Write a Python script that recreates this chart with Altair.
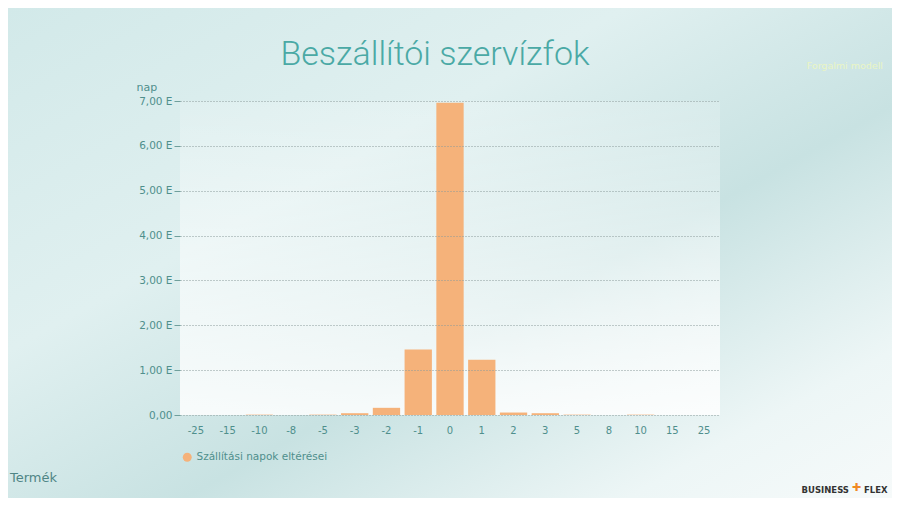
import altair as alt
import pandas as pd

categories = ["-25", "-15", "-10", "-8", "-5", "-3", "-2", "-1", "0", "1", "2", "3", "5", "8", "10", "15", "25"]
values = [0, 0, 8, 0, 8, 40, 160, 1460, 6960, 1230, 55, 40, 8, 0, 8, 0, 0]
series_name = "Szállítási napok eltérései"
title_text = "Beszállítói szervízfok"
corner_text = "Forgalmi modell"
footer_text = "Termék"

df = pd.DataFrame({"cat": categories, "val": values, "series": [series_name] * len(categories)})

W, H = 540, 314
PL, PT = 172, 93
PR = 884 - W - PL
PB = 490 - H - PT

bg = alt.Chart(pd.DataFrame({"a": [0]})).mark_rect(
    color=alt.Gradient(
        gradient="linear", x1=0, y1=0, x2=1, y2=1,
        stops=[
            alt.GradientStop(color="#d2e9e9", offset=0),
            alt.GradientStop(color="#e0f0f0", offset=0.35),
            alt.GradientStop(color="#c8e2e2", offset=0.6),
            alt.GradientStop(color="#edf6f6", offset=0.85),
            alt.GradientStop(color="#f6fafa", offset=1),
        ],
    )
).encode(x=alt.value(-PL), x2=alt.value(W + PR), y=alt.value(-PT), y2=alt.value(H + PB))

plotbg = alt.Chart(pd.DataFrame({"a": [0]})).mark_rect(
    color=alt.Gradient(
        gradient="linear", x1=0, y1=0, x2=0, y2=1,
        stops=[
            alt.GradientStop(color="rgba(255,255,255,0.15)", offset=0),
            alt.GradientStop(color="rgba(255,255,255,0.85)", offset=1),
        ],
    )
).encode(x=alt.value(0), x2=alt.value(W), y=alt.value(0), y2=alt.value(H))

bars = alt.Chart(df).mark_bar(color="#f5b27a").encode(
    x=alt.X("cat:N", sort=categories, title=None,
            scale=alt.Scale(paddingInner=0.14, paddingOuter=0.07),
            axis=alt.Axis(labelAngle=0, ticks=False, domain=False, labelPadding=10, zindex=1,
                          labelColor="#4f8f8c", labelFontSize=10, labelFont="DejaVu Sans", grid=False)),
    y=alt.Y("val:Q", title="nap", scale=alt.Scale(domain=[0, 7000], nice=False),
            axis=alt.Axis(values=[0, 1000, 2000, 3000, 4000, 5000, 6000, 7000], zindex=1,
                          labelExpr="datum.value == 0 ? '0,00' : replace(format(datum.value/1000, '.2f'), '.', ',') + ' E'",
                          labelColor="#4f8f8c", labelFontSize=10.5, labelFont="DejaVu Sans",
                          ticks=True, tickSize=6, tickColor="#6f9f9c", labelPadding=2,
                          domain=False, grid=True, gridColor="#8a9a9a", gridDash=[1, 2], gridWidth=1,
                          titleAngle=0, titleAlign="left", titleBaseline="bottom", titleX=-44, titleY=-9,
                          titleColor="#4f8f8c", titleFont="DejaVu Sans", titleFontSize=11, titleFontWeight="normal")),
    fill=alt.Fill("series:N", scale=alt.Scale(range=["#f5b27a"]),
                  legend=alt.Legend(title=None, orient="none", legendX=2, legendY=351, symbolType="circle",
                                    symbolSize=80, labelColor="#4f8f8c", labelFontSize=10.5,
                                    labelFont="DejaVu Sans", symbolStrokeWidth=0)),
)

title = alt.Chart(pd.DataFrame({"t": [title_text]})).mark_text(
    font="Roboto", fontWeight=300, fontSize=34, color="#4aa9a5", align="center", baseline="middle"
).encode(text="t:N", x=alt.value(255), y=alt.value(-46))

corner = alt.Chart(pd.DataFrame({"t": [corner_text]})).mark_text(
    font="DejaVu Sans", fontSize=9.5, color="#eaf5c4", align="right", baseline="middle"
).encode(text="t:N", x=alt.value(703), y=alt.value(-35))

footer = alt.Chart(pd.DataFrame({"t": [footer_text]})).mark_text(
    font="DejaVu Sans", fontSize=13, color="#4f8585", align="left", baseline="middle"
).encode(text="t:N", x=alt.value(-170), y=alt.value(377))

logo1 = alt.Chart(pd.DataFrame({"t": ["BUSINESS"]})).mark_text(
    font="DejaVu Sans", fontSize=8.5, fontWeight="bold", color="#333333", align="right", baseline="middle"
).encode(text="t:N", x=alt.value(669), y=alt.value(389))
logo2 = alt.Chart(pd.DataFrame({"t": ["FLEX"]})).mark_text(
    font="DejaVu Sans", fontSize=8.5, fontWeight="bold", color="#333333", align="left", baseline="middle"
).encode(text="t:N", x=alt.value(684), y=alt.value(389))
logo3 = alt.Chart(pd.DataFrame({"t": ["✚"]})).mark_text(
    fontSize=11, color="#f08a24", align="center", baseline="middle"
).encode(text="t:N", x=alt.value(676), y=alt.value(387))

chart = alt.layer(bg, plotbg, bars, title, corner, footer, logo1, logo2, logo3).properties(
    width=W, height=H,
    autosize=alt.AutoSizeParams(type="none"),
    padding={"left": PL, "top": PT, "right": PR, "bottom": PB},
    background="#d4eaea",
).configure_view(stroke=None)

chart.save("out.html", embed_options={"renderer": "svg", "actions": False})
